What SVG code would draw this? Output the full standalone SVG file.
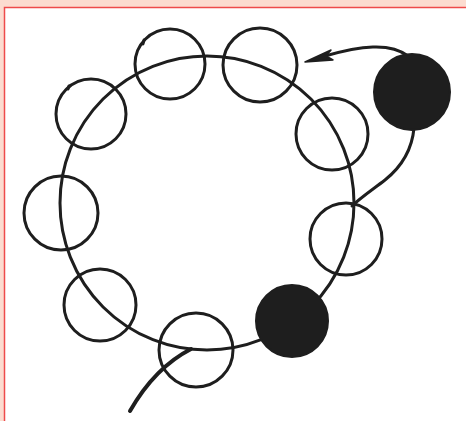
<svg xmlns="http://www.w3.org/2000/svg" width="466" height="421" viewBox="0 0 466 421">
  <style>
    .ring { fill: none; stroke: #1e1e1e; stroke-width: 3; }
    .solid { fill: #1e1e1e; stroke: #1e1e1e; stroke-width: 2; }
    .line { fill: none; stroke: #1e1e1e; stroke-width: 3; stroke-linecap: round; }
  </style>
  <rect x="0" y="0" width="466" height="421" fill="#fcdcd0"/>
  <rect x="5" y="8" width="461" height="413" fill="#ffffff"/>
  <path d="M4.5,421 V7.5 H466" fill="none" stroke="#ee4b4b" stroke-width="1.5"/>

  <g id="connectors">
    <circle id="loop" class="line" cx="207" cy="203" r="147"/>
    <path class="line" d="M408,56 C390,42 360,46 325,56"/>
    <path d="M305,62 L331,50 L326,56 L333,60 Z" fill="#1e1e1e" stroke="#1e1e1e" stroke-width="1.5" stroke-linejoin="round"/>
    <path class="line" d="M414,128 C412,150 400,168 385,180 C372,190 360,198 352,206"/>
    <path d="M130,411 C142,390 160,365 191,349" fill="none" stroke="#1e1e1e" stroke-width="4" stroke-linecap="round"/>
  </g>

  <g id="n1"><circle class="ring" cx="170" cy="64" r="35"/><path class="line" d="M143,44 l1,-4" stroke-width="3.5"/></g>
  <g id="n2"><circle class="ring" cx="260" cy="65" r="37"/></g>
  <g id="n3"><circle class="ring" cx="91" cy="114" r="35"/><path class="line" d="M68,89 l1,-3" stroke-width="3.5"/></g>
  <g id="n4"><circle class="ring" cx="61" cy="213" r="37"/></g>
  <g id="n5"><circle class="ring" cx="100" cy="305" r="36"/></g>
  <g id="n6"><circle class="ring" cx="196" cy="350" r="37"/></g>
  <g id="n7"><circle class="ring" cx="332" cy="134" r="36"/></g>
  <g id="n8"><circle class="ring" cx="346" cy="239" r="36"/></g>
  <g id="fA"><circle class="solid" cx="412" cy="92" r="38"/></g>
  <g id="fB"><circle class="solid" cx="292" cy="321" r="36"/></g>
</svg>
